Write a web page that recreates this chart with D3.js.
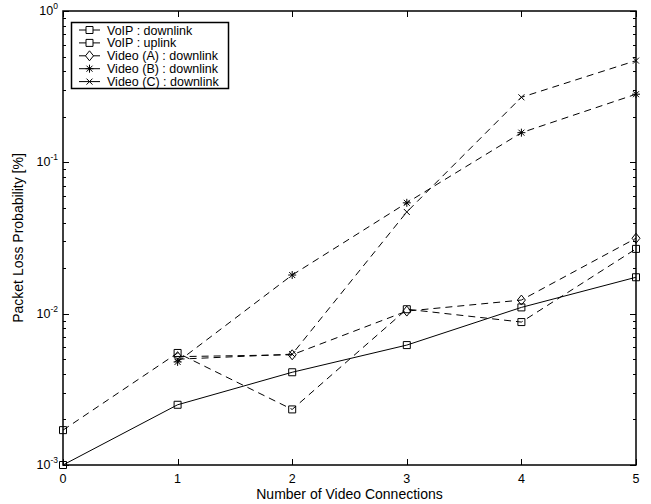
<!DOCTYPE html>
<html>
  <head>
    <meta charset="utf-8">
    <title>Packet loss probability</title>
    <script src="https://cdn.jsdelivr.net/npm/d3@7"></script>
    <style>
      body { margin: 0; background: #fff; }
      svg { font-family: "Liberation Sans", Arial, sans-serif; }
    </style>
  </head>
  <body>
    <svg id="chart" width="651" height="504"></svg>
    <script>
      // values
      const connections = [0, 1, 2, 3, 4, 5];
      const videoConnections = [1, 2, 3, 4, 5];
      const voipDown = [0.0017, 0.0055, 0.00233, 0.0107, 0.0088, 0.0268];
      const voipUp = [0.001, 0.0025, 0.0041, 0.0062, 0.011, 0.0174];
      const videoA = [0.0052, 0.00535, 0.0104, 0.0123, 0.0315];
      const videoB = [0.0048, 0.018, 0.054, 0.157, 0.282];
      const videoC = [0.005, 0.0054, 0.047, 0.269, 0.47];
      const xTicks = [0, 1, 2, 3, 4, 5];
      const yExponents = [0, -1, -2, -3];
      const names = ["VoIP : downlink", "VoIP : uplink", "Video (A) : downlink",
        "Video (B) : downlink", "Video (C) : downlink"];

      const series = [
        {name: names[0], xs: connections, ys: voipDown, marker: "square", dashed: true},
        {name: names[1], xs: connections, ys: voipUp, marker: "square", dashed: false},
        {name: names[2], xs: videoConnections, ys: videoA, marker: "diamond", dashed: true},
        {name: names[3], xs: videoConnections, ys: videoB, marker: "star", dashed: true},
        {name: names[4], xs: videoConnections, ys: videoC, marker: "cross", dashed: true}
      ];

      const svg = d3.select("#chart");
      const pl = 63, pr = 636, pt = 11, pb = 465;

      const x = d3.scaleLinear().domain([0, 5]).range([pl, pr]);
      const y = d3.scaleLog().domain([1e-3, 1]).range([pb, pt]);

      // marker shapes centred on 0,0
      function markerPath(kind) {
        let p = d3.path();
        if (kind == "square") {
          p.rect(-3.5, -3.5, 7, 7);
        } else if (kind == "diamond") {
          p.moveTo(0, -5); p.lineTo(4, 0); p.lineTo(0, 5); p.lineTo(-4, 0); p.closePath();
        } else if (kind == "star") {
          p.moveTo(-4, 0); p.lineTo(4, 0);
          p.moveTo(0, -4); p.lineTo(0, 4);
          p.moveTo(-3, -3); p.lineTo(3, 3);
          p.moveTo(-3, 3); p.lineTo(3, -3);
        } else {
          p.moveTo(-3, -3); p.lineTo(3, 3);
          p.moveTo(-3, 3); p.lineTo(3, -3);
        }
        return p.toString();
      }

      // minor + major ticks on the log axis
      const minorVals = [];
      for (let e = -3; e < 0; e++) {
        for (let m = 2; m <= 9; m++) minorVals.push(m * Math.pow(10, e));
      }
      const ticks = svg.append("g").attr("stroke", "#000").attr("stroke-width", 1);
      minorVals.forEach(function(v) {
        let yy = Math.round(y(v)) + 0.5;
        ticks.append("line").attr("x1", pl).attr("x2", pl + 3).attr("y1", yy).attr("y2", yy);
        ticks.append("line").attr("x1", pr).attr("x2", pr - 3).attr("y1", yy).attr("y2", yy);
      });
      yExponents.forEach(function(e) {
        let yy = Math.round(y(Math.pow(10, e))) + 0.5;
        ticks.append("line").attr("x1", pl).attr("x2", pl + 6).attr("y1", yy).attr("y2", yy);
        ticks.append("line").attr("x1", pr).attr("x2", pr - 6).attr("y1", yy).attr("y2", yy);
      });
      xTicks.forEach(function(t) {
        let xx = Math.round(x(t)) + 0.5;
        ticks.append("line").attr("x1", xx).attr("x2", xx).attr("y1", pb).attr("y2", pb - 6);
        ticks.append("line").attr("x1", xx).attr("x2", xx).attr("y1", pt).attr("y2", pt + 6);
      });

      // tick labels
      svg.append("g").selectAll("text")
        .data(xTicks)
        .enter().append("text")
          .attr("x", function(d) { return x(d); })
          .attr("y", 483)
          .attr("text-anchor", "middle")
          .attr("font-size", 12.5)
          .text(function(d) { return d; });
      const yLab = svg.append("g").selectAll("text")
        .data(yExponents)
        .enter().append("text")
          .attr("x", 58)
          .attr("y", function(d) { return y(Math.pow(10, d)) + 4; })
          .attr("text-anchor", "end")
          .attr("font-size", 12.5);
      yLab.append("tspan").text("10");
      yLab.append("tspan")
        .attr("dy", -6)
        .attr("font-size", 8.5)
        .text(function(d) { return d == 0 ? "0" : "-" + (-d); });

      // axis titles
      svg.append("text")
        .attr("x", (pl + pr) / 2)
        .attr("y", 499)
        .attr("text-anchor", "middle")
        .attr("font-size", 14)
        .text("Number of Video Connections");
      svg.append("text")
        .attr("transform", "translate(23," + ((pt + pb) / 2) + ") rotate(-90)")
        .attr("text-anchor", "middle")
        .attr("font-size", 14)
        .text("Packet Loss Probability [%]");

      // lines and markers
      const line = d3.line()
        .x(function(d) { return x(d[0]); })
        .y(function(d) { return y(d[1]); });
      const plot = svg.append("g");
      series.forEach(function(s) {
        let pts = d3.zip(s.xs, s.ys);
        plot.append("path")
          .datum(pts)
          .attr("d", line)
          .attr("fill", "none")
          .attr("stroke", "#000")
          .attr("stroke-width", 1)
          .attr("stroke-dasharray", s.dashed ? "7,5" : null);
        plot.selectAll(null)
          .data(pts)
          .enter().append("path")
            .attr("transform", function(d) { return "translate(" + x(d[0]) + "," + y(d[1]) + ")"; })
            .attr("d", markerPath(s.marker))
            .attr("fill", "none")
            .attr("stroke", "#000")
            .attr("stroke-width", 1);
      });

      // frame
      svg.append("rect")
        .attr("x", pl).attr("y", pt)
        .attr("width", pr - pl).attr("height", pb - pt)
        .attr("fill", "none")
        .attr("stroke", "#000")
        .attr("stroke-width", 1.5);

      // legend
      const legend = svg.append("g");
      legend.append("rect")
        .attr("x", 71.5).attr("y", 22.5)
        .attr("width", 157).attr("height", 66)
        .attr("fill", "#fff")
        .attr("stroke", "#000")
        .attr("stroke-width", 1.5);
      const rows = legend.selectAll(".row")
        .data(series)
        .enter().append("g")
          .attr("class", "row")
          .attr("transform", function(d, i) { return "translate(0," + (30 + i * 12.9) + ")"; });
      rows.append("line")
        .attr("x1", 79).attr("x2", 100)
        .attr("stroke", "#000")
        .attr("stroke-width", 1);
      rows.append("path")
        .attr("transform", "translate(89.5,0)")
        .attr("d", function(d) { return markerPath(d.marker); })
        .attr("fill", "#fff")
        .attr("stroke", "#000");
      rows.append("text")
        .attr("x", 107)
        .attr("y", 4.5)
        .attr("font-size", 12.5)
        .text(function(d) { return d.name; });
    </script>
  </body>
</html>
